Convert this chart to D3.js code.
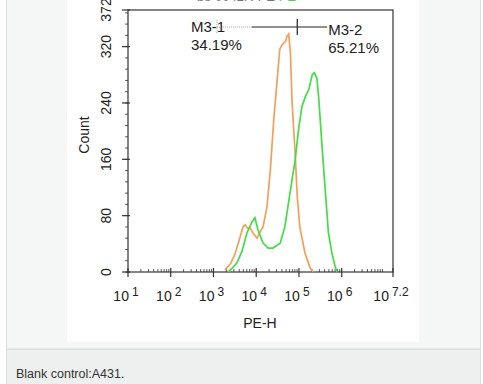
<!DOCTYPE html>
<html lang="en">
<head>
<meta charset="utf-8">
<title>Blank control:A431</title>
<script src="https://d3js.org/d3.v7.min.js"></script>
<style>
    body { margin: 0; padding: 0; background: #fff; overflow: hidden; }
    svg { display: block; font-family: "Liberation Sans", Arial, sans-serif; }
</style>
</head>
<body>
<div id="chart"></div>
<script>
// PE-H values as log10 decades, counts per channel
const orangeLog   = [3.27, 3.40, 3.50, 3.60, 3.69, 3.74, 3.80, 3.85, 3.93, 4.02, 4.10, 4.16, 4.25, 4.33, 4.41, 4.49, 4.55, 4.61, 4.69, 4.72, 4.76, 4.80, 4.84, 4.91, 4.96, 5.02, 5.14, 5.26, 5.33];
const orangeCount = [3, 12, 25, 45, 64, 67, 62, 63, 55, 48, 58, 64, 92, 145, 216, 273, 316, 323, 328, 335, 338, 311, 240, 169, 107, 64, 27, 6, 0];
const greenLog    = [3.34, 3.43, 3.55, 3.67, 3.78, 3.90, 3.97, 4.04, 4.16, 4.28, 4.39, 4.49, 4.56, 4.67, 4.79, 4.91, 4.99, 5.07, 5.15, 5.23, 5.31, 5.36, 5.42, 5.46, 5.54, 5.62, 5.69, 5.77, 5.85, 5.89];
const greenCount  = [0, 5, 13, 30, 55, 71, 77, 60, 41, 34, 34, 38, 41, 64, 112, 159, 202, 235, 249, 259, 280, 283, 275, 249, 178, 112, 55, 27, 7, 0];
const xDecades = [1, 2, 3, 4, 5, 6, 7.2];
const xTickSup = ["1", "2", "3", "4", "5", "6", "7.2"];
const yTicks = [0, 80, 160, 240, 320, 372];
const gateLabels = ["M3-1", "M3-2"];
const gatePercents = ["34.19%", "65.21%"];
const gateEdges = [3.08, 4.96, 5.66]; // left, split, right (log10)

const W = 483, H = 384;
const svg = d3.select("#chart").append("svg").attr("width", W).attr("height", H);

// page panels
svg.append("rect").attr("x", 6.5).attr("y", -1).attr("width", 474).attr("height", 350)
    .attr("fill", "#f5f6f6").attr("stroke", "#dcdddd");
svg.append("rect").attr("x", 6.5).attr("y", 349.5).attr("width", 474).attr("height", 40)
    .attr("fill", "#eeefef").attr("stroke", "#dcdddd");
svg.append("rect").attr("x", 67).attr("y", 0).attr("width", 352).attr("height", 342).attr("fill", "#fff");

svg.append("text").attr("x", 16).attr("y", 378).attr("font-size", 12.5).attr("fill", "#333")
    .text("Blank control:A431.");

const x = d3.scaleLinear().domain([1, 7.2]).range([128, 393]);
const y = d3.scaleLinear().domain([0, 372]).range([272, 10]);

// title, cut off at the very top as in the source image
const title = svg.append("text").attr("x", 197).attr("y", 1).attr("font-size", 13).attr("fill", "#777");
title.append("tspan").text("bs-0042R-PE ");
title.append("tspan").attr("fill", "#5c5").text("PE");

// frame
svg.append("rect").attr("x", x(1)).attr("y", y(372)).attr("width", x(7.2) - x(1)).attr("height", y(0) - y(372))
    .attr("fill", "none").attr("stroke", "#333").attr("stroke-width", 1.2);

// x ticks
const xMinor = [];
for (let n = 1; n < 8; n++) for (let k = 2; k <= 9; k++) {
    const v = n + Math.log10(k);
    if (v < 7.2) xMinor.push(v);
}
svg.append("g").selectAll("line").data(xMinor).enter().append("line")
    .attr("x1", d => x(d)).attr("x2", d => x(d)).attr("y1", y(0) - 3).attr("y2", y(0))
    .attr("stroke", "#333").attr("stroke-width", 0.8);
svg.append("g").selectAll("line").data(xDecades).enter().append("line")
    .attr("x1", d => x(d)).attr("x2", d => x(d)).attr("y1", y(0) - 4).attr("y2", y(0) + 5)
    .attr("stroke", "#333").attr("stroke-width", 1.2);
const xl = svg.append("g").selectAll("text").data(xDecades).enter().append("text")
    .attr("x", d => x(d) - 2).attr("y", 301).attr("text-anchor", "middle")
    .attr("font-size", 14).attr("fill", "#222");
xl.append("tspan").text("10");
xl.append("tspan").attr("dx", 3).attr("dy", -5).attr("font-size", 12).text((d, i) => xTickSup[i]);
svg.append("text").attr("x", 260).attr("y", 328).attr("text-anchor", "middle")
    .attr("font-size", 14).attr("fill", "#222").text("PE-H");

// y ticks
const yMinor = d3.range(0, 372, 16);
svg.append("g").selectAll("line").data(yMinor).enter().append("line")
    .attr("x1", x(1) - 3).attr("x2", x(1)).attr("y1", d => y(d)).attr("y2", d => y(d))
    .attr("stroke", "#333").attr("stroke-width", 0.8);
svg.append("g").selectAll("line").data(yTicks).enter().append("line")
    .attr("x1", x(1) - 6).attr("x2", x(1) + 2).attr("y1", d => y(d)).attr("y2", d => y(d))
    .attr("stroke", "#333").attr("stroke-width", 1.2);
svg.append("g").selectAll("text").data(yTicks).enter().append("text")
    .attr("transform", d => `translate(111,${y(d)}) rotate(-90)`)
    .attr("text-anchor", "middle").attr("font-size", 14).attr("fill", "#222").text(d => d);
svg.append("text").attr("transform", `translate(89,${y(186) - 6}) rotate(-90)`)
    .attr("text-anchor", "middle").attr("font-size", 14).attr("fill", "#222").text("Count");

// histograms
const line = d3.line().x(d => x(d[0])).y(d => y(d[1]));
svg.append("path").datum(orangeLog.map((v, i) => [v, orangeCount[i]]))
    .attr("d", line).attr("fill", "none").attr("stroke", "#f2a05c").attr("stroke-width", 1.7);
svg.append("path").datum(greenLog.map((v, i) => [v, greenCount[i]]))
    .attr("d", line).attr("fill", "none").attr("stroke", "#44dd44").attr("stroke-width", 1.7);

// gates
const gy = 27;
svg.append("line").attr("x1", x(gateEdges[0])).attr("x2", x(gateEdges[0]) + 35).attr("y1", gy).attr("y2", gy)
    .attr("stroke", "#aaa").attr("stroke-dasharray", "1,1");
svg.append("line").attr("x1", x(gateEdges[0])).attr("x2", x(gateEdges[0])).attr("y1", gy - 7).attr("y2", gy + 7)
    .attr("stroke", "#aaa").attr("stroke-dasharray", "1,1");
svg.append("line").attr("x1", x(gateEdges[0]) + 35).attr("x2", x(gateEdges[2])).attr("y1", gy).attr("y2", gy)
    .attr("stroke", "#222").attr("stroke-width", 1.2);
svg.append("line").attr("x1", x(gateEdges[1])).attr("x2", x(gateEdges[1])).attr("y1", gy - 8).attr("y2", gy + 8)
    .attr("stroke", "#222").attr("stroke-width", 1.2);
svg.append("text").attr("x", 191).attr("y", 32).attr("font-size", 15).attr("fill", "#222").text(gateLabels[0]);
svg.append("text").attr("x", 191).attr("y", 50).attr("font-size", 15).attr("fill", "#222").text(gatePercents[0]);
svg.append("text").attr("x", x(gateEdges[2]) + 1).attr("y", 35).attr("font-size", 15).attr("fill", "#222").text(gateLabels[1]);
svg.append("text").attr("x", x(gateEdges[2]) + 1).attr("y", 53).attr("font-size", 15).attr("fill", "#222").text(gatePercents[1]);
</script>
</body>
</html>
